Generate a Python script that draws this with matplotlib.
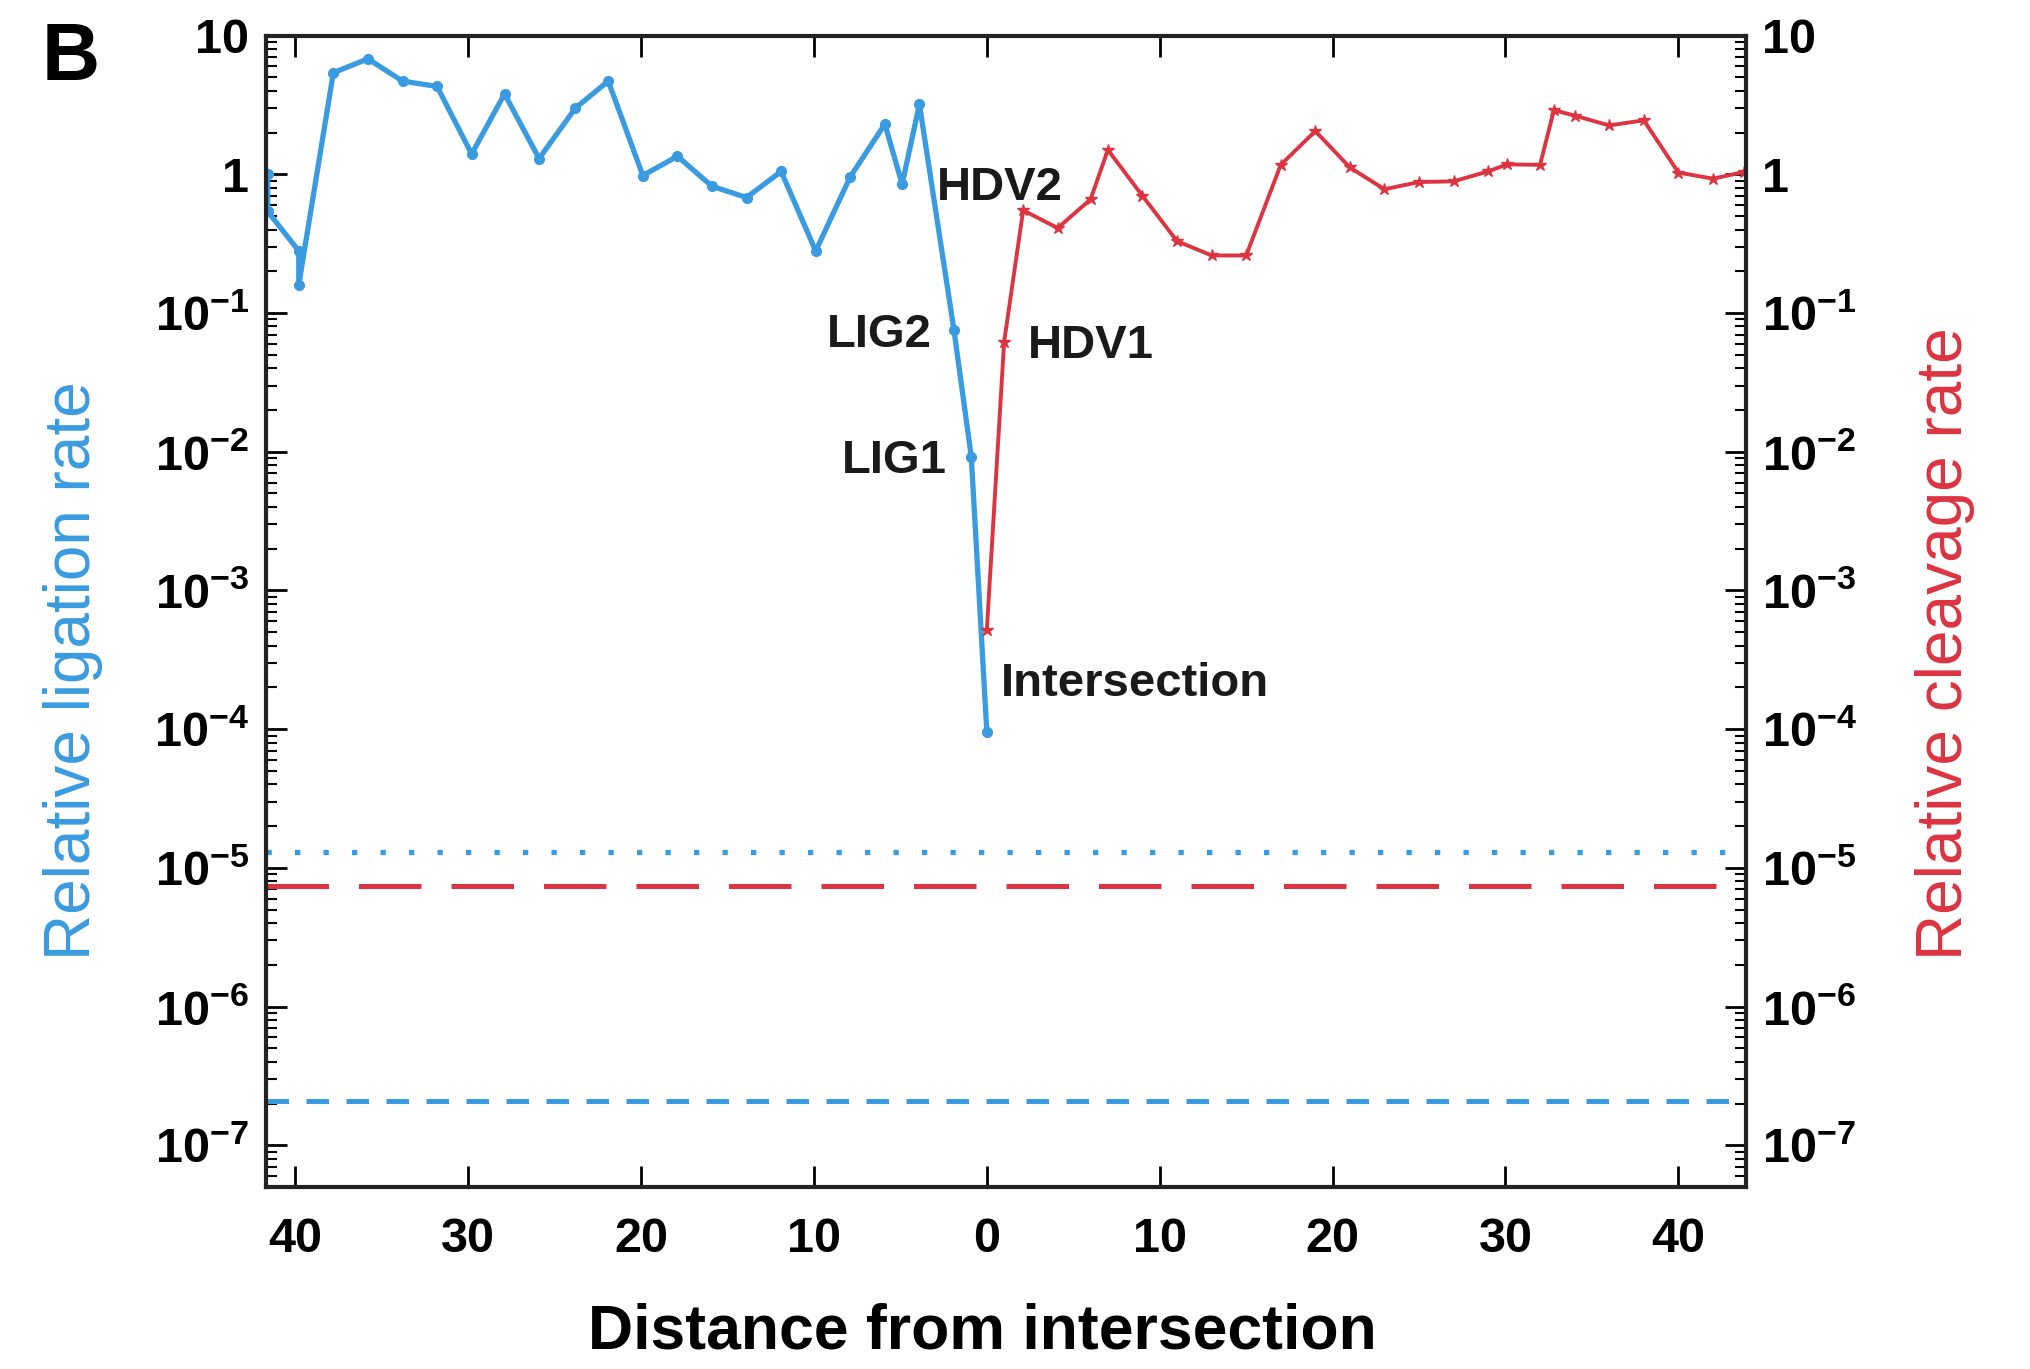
import matplotlib
matplotlib.use("Agg")
import matplotlib.pyplot as plt
from matplotlib.ticker import FixedLocator, LogLocator, FuncFormatter, NullFormatter
import numpy as np

plt.rcParams['font.family'] = ['Liberation Sans', 'DejaVu Sans']
plt.rcParams['mathtext.fontset'] = 'custom'
plt.rcParams['mathtext.rm'] = 'Liberation Sans:bold'
plt.rcParams['mathtext.bf'] = 'Liberation Sans:bold'
plt.rcParams['mathtext.default'] = 'rm'

# ligation (left side, negative distance)
lig_x = [-41.6, -41.6, -39.8, -39.8, -37.8, -35.8, -33.8, -31.8, -29.8, -27.9, -25.9,
         -23.8, -21.9, -19.9, -17.9, -15.9, -13.9, -11.9, -9.9, -7.9, -5.9, -4.9,
         -3.9, -1.9, -0.9, 0.0]
lig_y = [1.0, 0.54, 0.28, 0.16, 5.4, 6.8, 4.7, 4.3, 1.4, 3.8, 1.3,
         3.0, 4.7, 0.98, 1.35, 0.82, 0.68, 1.05, 0.28, 0.96, 2.3, 0.85,
         3.2, 0.075, 0.0092, 9.5e-5]

# cleavage (right side, positive distance)
clv_x = [0.0, 1.0, 2.1, 4.1, 6.0, 7.0, 9.0, 11.0, 13.0, 15.0, 17.0, 19.0, 21.0,
         23.0, 25.0, 27.0, 29.0, 30.1, 32.0, 32.8, 34.0, 36.0, 38.0, 40.0, 42.0, 43.8]
clv_y = [5.2e-4, 0.062, 0.55, 0.41, 0.66, 1.5, 0.70, 0.33, 0.26, 0.26, 1.17, 2.05, 1.12,
         0.78, 0.88, 0.89, 1.05, 1.18, 1.17, 2.9, 2.65, 2.25, 2.45, 1.03, 0.93, 1.04]

# reference levels
lig_dotted = 1.3e-5
clv_dashed = 7.4e-6
lig_dashed = 2.1e-7

labels = ["HDV2", "LIG2", "HDV1", "LIG1", "Intersection"]
label_x = [-2.9, -3.2, 2.4, -2.3, 0.8]
label_y = [0.80, 0.069, 0.058, 0.0086, 2.1e-4]
label_ha = ["left", "right", "left", "right", "left"]

blue = '#3a9be0'
red = '#dc3440'

fig = plt.figure(figsize=(20.3, 13.69), dpi=100)
ax = fig.add_axes([0.131, 0.133, 0.729, 0.841])
ax.set_yscale('log')
ax.set_xlim(-41.7, 43.9)
ax.set_ylim(10**-7.3, 10)

ax.axhline(lig_dotted, color=blue, lw=3.8, ls=(0, (1.0, 4.4)), dash_capstyle='butt')
ax.axhline(clv_dashed, color=red, lw=3.6, ls=(0, (12.5, 6)))
ax.axhline(lig_dashed, color=blue, lw=3.6, ls=(0, (4.5, 3.5)))

ax.plot(lig_x, lig_y, color=blue, lw=3.8, marker='o', ms=7)
ax.plot(clv_x, clv_y, color=red, lw=2.8, marker='*', ms=9)

for t, x, y, ha in zip(labels, label_x, label_y, label_ha):
    ax.text(x, y, t, ha=ha, va='center', fontsize=34, fontweight='bold', color='#1a1a1a')

ax.xaxis.set_major_locator(FixedLocator([-40, -30, -20, -10, 0, 10, 20, 30, 40]))
ax.xaxis.set_major_formatter(FuncFormatter(lambda v, p: "%d" % abs(round(v))))


def yfmt(v, p):
    e = int(round(np.log10(v)))
    if e == 1:
        return "10"
    if e == 0:
        return "1"
    return "10$^{%d}$" % e


ax.yaxis.set_major_locator(FixedLocator([10.0**e for e in range(-7, 2)]))
ax.yaxis.set_major_formatter(FuncFormatter(yfmt))
ax.yaxis.set_minor_locator(LogLocator(base=10, subs=np.arange(2, 10), numticks=30))
ax.yaxis.set_minor_formatter(NullFormatter())

ax.tick_params(which='major', direction='in', length=15, width=2, top=True, right=True,
               labelright=True, labelsize=35, pad=12)
ax.tick_params(which='minor', direction='in', length=8, width=1.5, right=True)
for lab in ax.get_xticklabels() + ax.get_yticklabels(which='both'):
    lab.set_fontweight('bold')
ax.tick_params(axis='x', pad=22)
for s in ax.spines.values():
    s.set_linewidth(3)
    s.set_color('#222222')

fig.text(0.484, 0.027, "Distance from intersection", ha='center', va='center',
         fontsize=45, fontweight='bold')
fig.text(0.036, 0.51, "Relative ligation rate", rotation=90, ha='center', va='center',
         fontsize=46, color=blue)
fig.text(0.958, 0.53, "Relative cleavage rate", rotation=90, ha='center', va='center',
         fontsize=46, color=red)
fig.text(0.035, 0.957, "B", ha='center', va='center', fontsize=58, fontweight='bold')

fig.savefig("out.png", dpi=100)
